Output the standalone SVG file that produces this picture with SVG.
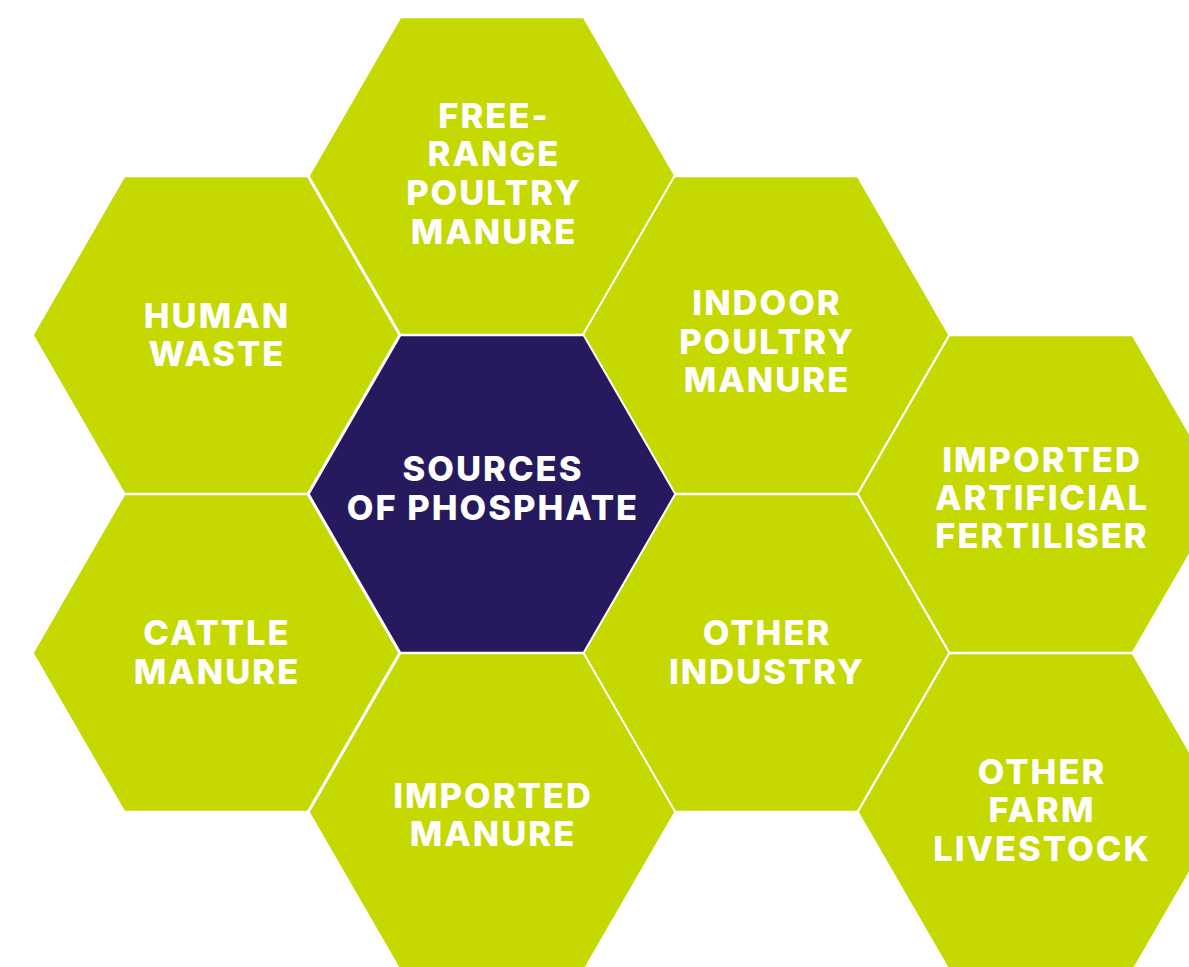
<svg xmlns="http://www.w3.org/2000/svg" width="1189" height="967" viewBox="0 0 1189 967">
<defs>
<style>
.hex{fill:#C5D800;stroke:#ffffff;stroke-width:2}
.hex.dark{fill:#26195E}
.t{font-family:Inter,"Open Sans","Liberation Sans",sans-serif;font-weight:800;font-size:34.5px;fill:#ffffff;text-anchor:middle;letter-spacing:2px}
</style>
<polygon id="h" points="-183.3,0 -91.65,-158.75 91.65,-158.75 183.3,0 91.65,158.75 -91.65,158.75"/>
</defs>
<rect width="1189" height="967" fill="#ffffff"/>
<g id="connectors"/>
<g id="free-range">
<use href="#h" class="hex" x="492" y="176"/>
<text class="t"><tspan x="494" y="128">FREE-</tspan><tspan x="494" y="166">RANGE</tspan><tspan x="494" y="205">POULTRY</tspan><tspan x="494" y="244">MANURE</tspan></text>
</g>
<g id="human-waste">
<use href="#h" class="hex" x="216" y="335"/>
<text class="t"><tspan x="217" y="328">HUMAN</tspan><tspan x="217" y="366">WASTE</tspan></text>
</g>
<g id="indoor-poultry">
<use href="#h" class="hex" x="766" y="335"/>
<text class="t"><tspan x="767" y="315">INDOOR</tspan><tspan x="767" y="354">POULTRY</tspan><tspan x="767" y="392">MANURE</tspan></text>
</g>
<g id="imported-artificial">
<use href="#h" class="hex" x="1041" y="494"/>
<text class="t"><tspan x="1042" y="472">IMPORTED</tspan><tspan x="1042" y="510">ARTIFICIAL</tspan><tspan x="1042" y="548">FERTILISER</tspan></text>
</g>
<g id="cattle">
<use href="#h" class="hex" x="216" y="653"/>
<text class="t"><tspan x="217" y="645">CATTLE</tspan><tspan x="217" y="684">MANURE</tspan></text>
</g>
<g id="other-industry">
<use href="#h" class="hex" x="766" y="653"/>
<text class="t"><tspan x="767" y="645">OTHER</tspan><tspan x="767" y="684">INDUSTRY</tspan></text>
</g>
<g id="imported-manure">
<use href="#h" class="hex" x="492" y="812"/>
<text class="t"><tspan x="493" y="808">IMPORTED</tspan><tspan x="493" y="846">MANURE</tspan></text>
</g>
<g id="other-farm">
<use href="#h" class="hex" x="1041" y="812"/>
<text class="t"><tspan x="1042" y="784">OTHER</tspan><tspan x="1042" y="822">FARM</tspan><tspan x="1042" y="861">LIVESTOCK</tspan></text>
</g>
<g id="center">
<use href="#h" class="hex dark" x="492" y="494"/>
<text class="t"><tspan x="493" y="481">SOURCES</tspan><tspan x="493" y="520">OF PHOSPHATE</tspan></text>
</g>
</svg>
